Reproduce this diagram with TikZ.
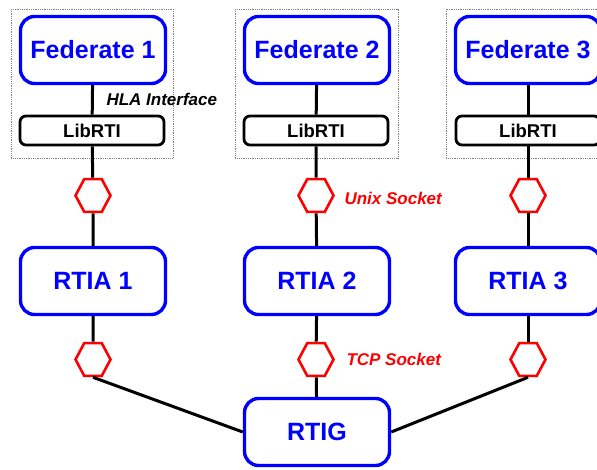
\documentclass[tikz,border=0pt]{standalone}
\usepackage{fontspec}
\setmainfont{Liberation Sans}
\usetikzlibrary{positioning,shapes.geometric}

\begin{document}
\begin{tikzpicture}[x=1pt,y=-1pt,
  bluebox/.style={draw=blue, line width=3.4pt, rounded corners=14pt, minimum width=145pt, minimum height=67pt, text=blue, font=\fontsize{25}{28}\selectfont\bfseries},
  libbox/.style={draw=black, line width=2.8pt, rounded corners=6pt, minimum width=144pt, minimum height=29pt, font=\fontsize{18.5}{20}\selectfont\bfseries},
  sock/.style={draw=red, line width=2.6pt, regular polygon, regular polygon sides=6, minimum size=35pt, inner sep=0pt, yscale=1.08},
  conn/.style={line width=3pt},
  tag/.style={anchor=west, font=\fontsize{17}{19}\selectfont\bfseries\itshape},
  groupbox/.style={draw=gray, densely dotted, line width=0.8pt}]
\clip (0,0) rectangle (597,469);

% Federate groups
\draw[groupbox] (11,9) rectangle (173,158);
\draw[groupbox] (235,9) rectangle (398,158);
\draw[groupbox] (446,9) rectangle (612,158);

\node[bluebox] (fed1) at (93,50) {Federate 1};
\node[bluebox] (fed2) at (317,50) {Federate 2};
\node[bluebox] (fed3) at (528,50) {Federate 3};

\node[libbox] (lib1) at (92,130.5) {LibRTI};
\node[libbox] (lib2) at (316,130.5) {LibRTI};
\node[libbox] (lib3) at (528,130.5) {LibRTI};

% Sockets
\node[sock] (sockU1) at (93,195.5) {};
\node[sock] (sockU2) at (316,195.5) {};
\node[sock] (sockU3) at (528,195.5) {};

\node[bluebox] (rtia1) at (93,281) {RTIA 1};
\node[bluebox] (rtia2) at (317,281) {RTIA 2};
\node[bluebox] (rtia3) at (528,281) {RTIA 3};

\node[sock] (sockL1) at (93,359.5) {};
\node[sock] (sockL2) at (316,359.5) {};
\node[sock] (sockL3) at (528,359.5) {};

\node[bluebox] (rtig) at (317,432) {RTIG};

% Links
\draw[conn] (fed1) -- (lib1) -- (sockU1) -- (rtia1) -- (sockL1);
\draw[conn] (fed2) -- (lib2) -- (sockU2) -- (rtia2) -- (sockL2) -- (rtig);
\draw[conn] (fed3) -- (lib3) -- (sockU3) -- (rtia3) -- (sockL3);
\draw[conn] (sockL1.south) -- (rtig.west);
\draw[conn] (sockL3.south) -- (rtig.east);

% Labels
\node[tag] (hla) at (103,99) {HLA Interface};
\node[tag, text=red] (unix) at (341,198) {Unix Socket};
\node[tag, text=red] (tcp) at (343,359) {TCP Socket};
\end{tikzpicture}
\end{document}
